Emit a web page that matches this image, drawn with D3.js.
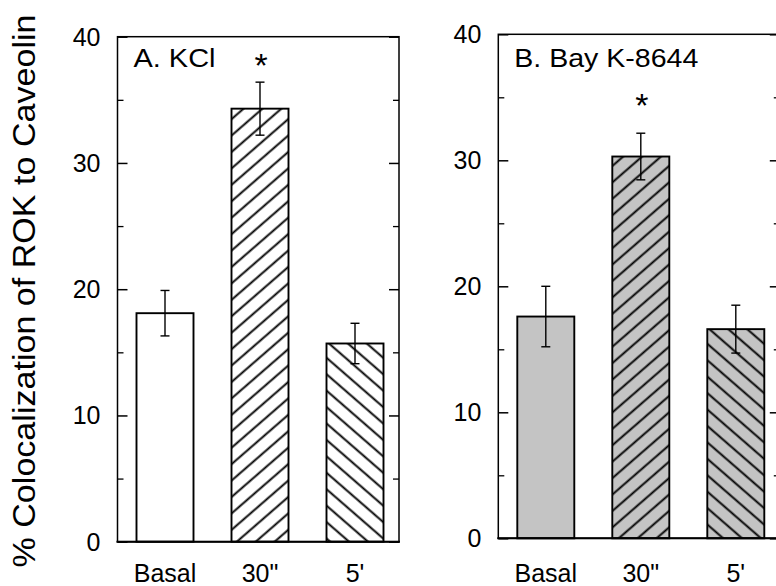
<!DOCTYPE html>
<html>
<head>
<meta charset="utf-8">
<script src="https://cdn.jsdelivr.net/npm/d3@7"></script>
<style>
  html, body { margin: 0; padding: 0; background: #fff; }
  svg { display: block; }
  text { font-family: "Liberation Sans", Arial, Helvetica, sans-serif; fill: #000; }
</style>
</head>
<body>
<svg id="chart" width="776" height="586"></svg>
<script>
// Treatment groups shared by both panels
const categories = ["Basal", "30\"", "5'"];

// Panel A: KCl stimulation (mean ± SE, %)
const kclMeans  = [18.1, 34.3, 15.7];
const kclErrors = [1.8, 2.1, 1.6];

// Panel B: Bay K-8644 stimulation (mean ± SE, %)
const bayMeans  = [17.6, 30.3, 16.6];
const bayErrors = [2.4, 1.85, 1.9];

// Significance markers (index of the starred group, height in data units)
const kclStar = { index: 1, value: 38.3 };
const bayStar = { index: 1, value: 34.9 };

// Axis ticks
const majorTicks = [0, 10, 20, 30, 40];
const minorTicks = [5, 15, 25, 35];

const yLabel = "% Colocalization of ROK to Caveolin";

// Fill styles per bar
const kclFills = ["plain", "hatchUp", "hatchDown"];
const bayFills = ["gray", "grayHatchUp", "grayHatchDown"];

const svg = d3.select("#chart");
svg.append("rect").attr("width", 776).attr("height", 586).attr("fill", "#fff");

// Hatch patterns
const defs = svg.append("defs");
const GRAY = "#c4c4c4";
const HATCH_GAP = 12.4;
function hatch(id, angle, bg) {
  const p = defs.append("pattern")
    .attr("id", id)
    .attr("patternUnits", "userSpaceOnUse")
    .attr("width", 40).attr("height", HATCH_GAP)
    .attr("patternTransform", `rotate(${angle})`);
  p.append("rect").attr("width", 40).attr("height", HATCH_GAP).attr("fill", bg);
  p.append("line").attr("x1", 0).attr("x2", 40)
    .attr("y1", HATCH_GAP / 2).attr("y2", HATCH_GAP / 2)
    .attr("stroke", "#000").attr("stroke-width", 2);
}
hatch("hatchUp", -41, "#fff");
hatch("hatchDown", 41, "#fff");
hatch("grayHatchUp", -41, GRAY);
hatch("grayHatchDown", 41, GRAY);
const fillFor = {
  plain: "#fff",
  gray: GRAY,
  hatchUp: "url(#hatchUp)",
  hatchDown: "url(#hatchDown)",
  grayHatchUp: "url(#grayHatchUp)",
  grayHatchDown: "url(#grayHatchDown)"
};

// Panel layout
const panelWidth = 281.5;
const panels = [
  { title: "A. KCl", titleLen: 82, means: kclMeans, errors: kclErrors, fills: kclFills,
    star: kclStar, left: 117.5, top: 36.7, bottom: 541.7 },
  { title: "B. Bay K-8644", titleLen: 184, means: bayMeans, errors: bayErrors, fills: bayFills,
    star: bayStar, left: 498.3, top: 34.3, bottom: 538.3 }
];

panels.forEach(pn => {
  const g = svg.append("g");
  const y = d3.scaleLinear().domain([0, 40]).range([pn.bottom, pn.top]);
  const x = d3.scaleBand().domain(categories)
    .range([pn.left, pn.left + 285]).paddingInner(0.4).paddingOuter(0.2);
  const right = pn.left + panelWidth;

  // Bars
  g.selectAll("rect.bar").data(categories).join("rect")
    .attr("class", "bar")
    .attr("x", d => x(d))
    .attr("y", (d, i) => y(pn.means[i]))
    .attr("width", x.bandwidth())
    .attr("height", (d, i) => y(0) - y(pn.means[i]))
    .attr("fill", (d, i) => fillFor[pn.fills[i]])
    .attr("stroke", "#000").attr("stroke-width", 1.9);

  // Error bars
  const eb = g.selectAll("g.err").data(categories).join("g").attr("class", "err");
  eb.append("line")
    .attr("x1", d => x(d) + x.bandwidth() / 2).attr("x2", d => x(d) + x.bandwidth() / 2)
    .attr("y1", (d, i) => y(pn.means[i] + pn.errors[i]))
    .attr("y2", (d, i) => y(pn.means[i] - pn.errors[i]))
    .attr("stroke", "#000").attr("stroke-width", 1.4);
  [1, -1].forEach(s => {
    eb.append("line")
      .attr("x1", d => x(d) + x.bandwidth() / 2 - 4.5).attr("x2", d => x(d) + x.bandwidth() / 2 + 4.5)
      .attr("y1", (d, i) => y(pn.means[i] + s * pn.errors[i]))
      .attr("y2", (d, i) => y(pn.means[i] + s * pn.errors[i]))
      .attr("stroke", "#000").attr("stroke-width", 1.4);
  });

  // Frame
  g.append("rect")
    .attr("x", pn.left).attr("y", pn.top)
    .attr("width", panelWidth).attr("height", pn.bottom - pn.top)
    .attr("fill", "none").attr("stroke", "#000").attr("stroke-width", 1.5);
  g.append("line").attr("x1", pn.left - 1).attr("x2", right + 1)
    .attr("y1", y(0)).attr("y2", y(0)).attr("stroke", "#000").attr("stroke-width", 2);

  // Left axis with inward ticks and labels
  const axL = g.append("g").attr("transform", `translate(${pn.left},0)`)
    .call(d3.axisRight(y).tickValues(majorTicks).tickSize(10).tickFormat(""));
  axL.select(".domain").remove();
  axL.selectAll("line").attr("stroke-width", 1.5);
  const axLm = g.append("g").attr("transform", `translate(${pn.left},0)`)
    .call(d3.axisRight(y).tickValues(minorTicks).tickSize(6).tickFormat(""));
  axLm.select(".domain").remove();
  axLm.selectAll("line").attr("stroke-width", 1.3);

  // Right axis ticks (inward)
  const axR = g.append("g").attr("transform", `translate(${right},0)`)
    .call(d3.axisLeft(y).tickValues(majorTicks).tickSize(10).tickFormat(""));
  axR.select(".domain").remove();
  axR.selectAll("line").attr("stroke-width", 1.5);
  const axRm = g.append("g").attr("transform", `translate(${right},0)`)
    .call(d3.axisLeft(y).tickValues(minorTicks).tickSize(6).tickFormat(""));
  axRm.select(".domain").remove();
  axRm.selectAll("line").attr("stroke-width", 1.3);

  // Tick labels
  g.selectAll("text.ytick").data(majorTicks).join("text")
    .attr("class", "ytick")
    .attr("x", pn.left - 17).attr("y", d => y(d))
    .attr("dy", "0.36em")
    .attr("text-anchor", "end")
    .style("font-size", "25px")
    .text(d => d);

  // Category labels
  g.selectAll("text.xcat").data(categories).join("text")
    .attr("class", "xcat")
    .attr("x", d => x(d) + x.bandwidth() / 2)
    .attr("y", 582)
    .attr("text-anchor", "middle")
    .style("font-size", "25px")
    .text(d => d);

  // Panel title
  g.append("text")
    .attr("x", pn.left + 16).attr("y", 67)
    .attr("textLength", pn.titleLen).attr("lengthAdjust", "spacingAndGlyphs")
    .style("font-size", "25px")
    .text(pn.title);

  // Significance star
  const sc = categories[pn.star.index];
  g.append("text")
    .attr("x", x(sc) + x.bandwidth() / 2 + 1)
    .attr("y", y(pn.star.value))
    .attr("dy", "0.55em")
    .attr("text-anchor", "middle")
    .style("font-size", "34px")
    .text("*");
});

// Shared y-axis title
svg.append("text")
  .attr("transform", "translate(35,291) rotate(-90)")
  .attr("text-anchor", "middle")
  .attr("textLength", 553).attr("lengthAdjust", "spacingAndGlyphs")
  .style("font-size", "31px")
  .text(yLabel);
</script>
</body>
</html>
